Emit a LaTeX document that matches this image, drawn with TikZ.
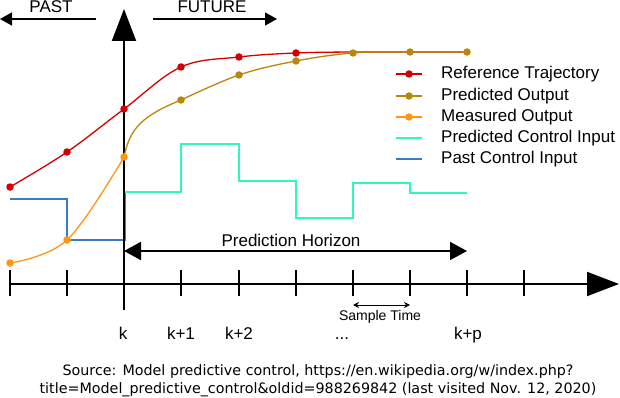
\documentclass[tikz,border=0pt]{standalone}
\usepackage{fontspec}
\setmainfont{Liberation Sans}
\newfontfamily\srcfont{DejaVu Sans}
\usetikzlibrary{arrows.meta}
\definecolor{refred}{HTML}{D40000}
\definecolor{predgold}{HTML}{B8860B}
\definecolor{measorange}{HTML}{FF9510}
\definecolor{ctrlcyan}{HTML}{33F5BE}
\definecolor{pastblue}{HTML}{3A7CC0}
\tikzset{
  axisline/.style={line width=2pt,black},
  tickline/.style={line width=1.6pt,black},
  curveline/.style={line width=1.3pt},
  stepline/.style={line width=1.8pt},
  dotmark/.style={circle,inner sep=0pt,minimum size=7.5pt},
  lbl/.style={font=\fontsize{17}{19}\selectfont,inner sep=0pt},
  leglbl/.style={font=\fontsize{17}{19}\selectfont,inner sep=0pt,anchor=west},
}
\begin{document}
\begin{tikzpicture}[x=1pt,y=-1pt]
\useasboundingbox (0,0) rectangle (620,398);
% coordinates
\foreach \i/\x in {0/10,1/67,2/124,3/181,4/239,5/296,6/353,7/410,8/467,9/524}{
  \coordinate (tt\i) at (\x,270);
  \coordinate (tb\i) at (\x,296);
}
\coordinate (axL) at (10,284);
\coordinate (axR) at (619,284);
\coordinate (vaB) at (124,310);
\coordinate (vaT) at (124,9);
% control inputs
\draw[stepline,pastblue] (10,199) -- (67,199) -- (67,240) -- (125,240) -- (125,192);
\draw[stepline,ctrlcyan] (125,192) -- (181,192) -- (181,144) -- (239,144) -- (239,181) -- (296,181) -- (296,218) -- (353,218) -- (353,183) -- (410,183) -- (410,193) -- (467,193);
% axes
\draw[axisline,-{Triangle[length=32pt,width=24pt]}] (vaB) -- (vaT);
\draw[axisline,-{Triangle[length=32pt,width=24pt]}] (axL) -- (axR);
\foreach \i in {0,...,9}{\draw[tickline] (tt\i) -- (tb\i);}
% PAST / FUTURE
\coordinate (pastA) at (96,19);
\coordinate (pastB) at (0,19);
\coordinate (futA) at (153,19);
\coordinate (futB) at (277,19);
\draw[line width=1.5pt,-{Triangle[length=12pt,width=13pt]}] (pastA) -- (pastB);
\draw[line width=1.5pt,-{Triangle[length=12pt,width=13pt]}] (futA) -- (futB);
\node[lbl] (past) at (51,7) {PAST};
\node[lbl] (future) at (212,7) {FUTURE};
% curves
\draw[curveline,refred] plot[smooth,tension=0.6] coordinates {(10,187) (67,152) (124,109) (181,67) (239,57) (296,53) (353,52) (410,52) (463,52)};
\draw[curveline,measorange] plot[smooth,tension=0.6] coordinates {(10,263) (67,240) (124,157)};
\draw[curveline,predgold] (124,157) .. controls (130,128) and (142,116) .. (181,100);
\draw[curveline,predgold] plot[smooth,tension=0.6] coordinates {(181,100) (239,75) (296,61) (353,53) (410,52) (467,52)};
\foreach \p [count=\n] in {(10,187),(67,152),(124,109),(181,67),(239,57),(296,53)}{
  \node[dotmark,fill=refred] (r\n) at \p {};}
\foreach \p [count=\n] in {(181,100),(239,75),(296,61),(353,53),(410,52),(467,52)}{
  \node[dotmark,fill=predgold] (g\n) at \p {};}
\foreach \p [count=\n] in {(10,263),(67,240),(124,157)}{
  \node[dotmark,fill=measorange] (m\n) at \p {};}
% legend
\foreach \y/\c/\m [count=\n] in {74/refred/1,96/predgold/1,117/measorange/1,138/ctrlcyan/0,159/pastblue/0}{
  \coordinate (la\n) at (396,\y);
  \coordinate (lb\n) at (422,\y);
  \draw[line width=1.5pt,\c] (la\n) -- (lb\n);
  \ifnum\m=1 \node[dotmark,fill=\c] (lm\n) at (409,\y) {};\fi
}
\node[leglbl] (l1) at (441,74) {Reference Trajectory};
\node[leglbl] (l2) at (441,96) {Predicted Output};
\node[leglbl] (l3) at (441,117) {Measured Output};
\node[leglbl] (l4) at (441,138) {Predicted Control Input};
\node[leglbl] (l5) at (441,159) {Past Control Input};
% prediction horizon
\coordinate (phL) at (124,251);
\coordinate (phR) at (467,251);
\draw[line width=1.8pt,{Triangle[length=17pt,width=18pt]}-{Triangle[length=17pt,width=18pt]}] (phL) -- (phR);
\node[lbl] (ph) at (291,240) {Prediction Horizon};
% sample time
\coordinate (stL) at (353,305);
\coordinate (stR) at (410,305);
\draw[line width=1pt,{Stealth[length=6pt,width=6pt]}-{Stealth[length=6pt,width=6pt]}] (stL) -- (stR);
\node[lbl,font=\fontsize{14}{16}\selectfont] (st) at (380,317) {Sample Time};
% tick labels
\node[lbl,anchor=base] (k0) at (123,339) {k};
\node[lbl,anchor=base] (k1) at (181,339) {k+1};
\node[lbl,anchor=base] (k2) at (239,339) {k+2};
\node[lbl,anchor=base] (kd) at (342,339) {...};
\node[lbl,anchor=base] (kp) at (468,339) {k+p};
% source
\node[inner sep=0pt,font=\srcfont\fontsize{14.3}{18}\selectfont,align=center] (src) at (318,381) {Source: Model predictive control, https://en.wikipedia.org/w/index.php?\\title=Model\_predictive\_control\&oldid=988269842 (last visited Nov. 12, 2020)};
\end{tikzpicture}
\end{document}
